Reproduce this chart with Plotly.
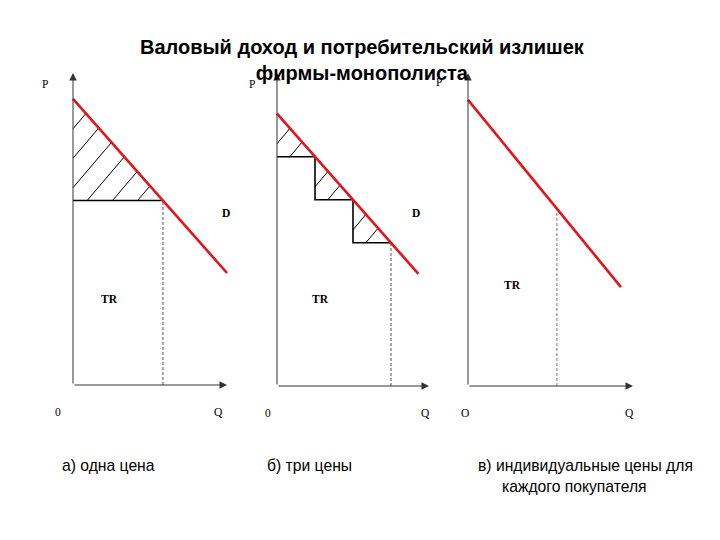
import plotly.graph_objects as go

# figure sized to fit the 720x540 window inside the page's default 8px body margin
OFF = 8
W, H = 720 - OFF, 540 - OFF

# ---------------- data ----------------
title_text = "Валовый доход и потребительский излишек<br>фирмы-монополиста"
caption_a = "а) одна цена"
caption_b = "б) три цены"
caption_c1 = "в) индивидуальные цены для"
caption_c2 = "каждого покупателя"

AXIS_MAX = 10.0
X_MIN, X_MAX = -2.2, 10.6   # visible data range (room for labels)
Y_MIN, Y_MAX = -1.3, 10.3

# demand lines: P = p0 - slope * Q, drawn from Q=0 to q_end
demand_p0 = [9.17, 8.70, 9.14]
demand_slope = [0.558, 0.55, 0.645]
demand_qend = [10.0, 9.3, 9.27]

price_a_q = 5.84              # quantity sold at single price (panel a)
steps_b_q = [2.5, 5.0, 7.5]   # quantities for three prices (panel b)
indiv_c_q = 5.39              # quantity with individual prices (panel c)

hatch_a_q = [0.84, 1.67, 2.5, 3.33, 4.17, 5.0]
hatch_b_q = [0.85, 1.65, 3.35, 4.15, 5.85, 6.65]
hatch_slope = 0.58

# ---------------- layout geometry (screen pixels) ----------------
panel_px = [  # x at Q=0, x at Q=10, y at P=0, y at P=10
    (73, 227, 385, 73),
    (277, 429, 386, 73),
    (468, 633, 386, 73),
]

RED = "#e3141b"
AX = "#333333"
SERIF = "Liberation Serif, Times New Roman, serif"


def px2paper(x, y):
    return (x - OFF) / W, 1 - (y - OFF) / H


def demand(i, q):
    return demand_p0[i] - demand_slope[i] * q


fig = go.Figure()
layout_axes = {}
annotations = []

for i, (x0, x10, y0, y10) in enumerate(panel_px):
    sfx = "" if i == 0 else str(i + 1)
    ux = (x10 - x0) / AXIS_MAX
    uy = (y0 - y10) / AXIS_MAX
    dl, _ = px2paper(x0 + X_MIN * ux, 0)
    dr, _ = px2paper(x0 + X_MAX * ux, 0)
    _, db = px2paper(0, y0 - Y_MIN * uy)
    _, dt = px2paper(0, y0 - Y_MAX * uy)
    layout_axes["xaxis" + sfx] = dict(domain=[dl, dr], range=[X_MIN, X_MAX],
                                      visible=False, fixedrange=True, anchor="y" + sfx)
    layout_axes["yaxis" + sfx] = dict(domain=[db, dt], range=[Y_MIN, Y_MAX],
                                      visible=False, fixedrange=True, anchor="x" + sfx)
    xr_, yr_ = "x" + sfx, "y" + sfx
    # axes with arrows
    for tip in [(0, AXIS_MAX), (AXIS_MAX, 0)]:
        annotations.append(dict(x=tip[0], y=tip[1], ax=0, ay=0, xref=xr_, yref=yr_,
                                axref=xr_, ayref=yr_, showarrow=True, arrowhead=2,
                                arrowsize=1.5, arrowwidth=1, arrowcolor=AX, text=""))

lines = []  # (panel, xs, ys, color, width, dash)

# panel a
pa = demand(0, price_a_q)
for qu in hatch_a_q:
    pu = demand(0, qu)
    ql = qu - (pu - pa) / hatch_slope
    if ql < 0:
        lines.append((0, [0, qu], [pu - hatch_slope * qu, pu], "black", 1, "solid"))
    else:
        lines.append((0, [ql, qu], [pa, pu], "black", 1, "solid"))
lines.append((0, [0, price_a_q], [pa, pa], "black", 1.6, "solid"))
lines.append((0, [price_a_q, price_a_q], [0, pa], "#555555", 1, "3px,2px"))

# panel b
pb = [demand(1, q) for q in steps_b_q]
sx, sy = [0], [pb[0]]
for k, q in enumerate(steps_b_q):
    sx += [q]
    sy += [pb[k]]
    if k + 1 < len(steps_b_q):
        sx += [q]
        sy += [pb[k + 1]]
lines.append((1, sx, sy, "black", 1.6, "solid"))
lefts = [0] + steps_b_q[:-1]
for qu in hatch_b_q:
    k = next(j for j, q in enumerate(steps_b_q) if qu < q)
    pu = demand(1, qu)
    ql = qu - (pu - pb[k]) / hatch_slope
    if ql < lefts[k]:
        lines.append((1, [lefts[k], qu], [pu - hatch_slope * (qu - lefts[k]), pu], "black", 1, "solid"))
    else:
        lines.append((1, [ql, qu], [pb[k], pu], "black", 1, "solid"))
lines.append((1, [steps_b_q[-1], steps_b_q[-1]], [0, pb[-1]], "#555555", 1, "3px,2px"))

# panel c
pc = demand(2, indiv_c_q)
lines.append((2, [indiv_c_q, indiv_c_q], [0, pc - 0.1], "#777777", 1, "3px,2px"))

# demand lines
for i in range(3):
    lines.append((i, [0, demand_qend[i]], [demand(i, 0), demand(i, demand_qend[i])], RED, 2.6, "solid"))

for (i, xs, ys, col, w, dash) in lines:
    sfx = "" if i == 0 else str(i + 1)
    fig.add_trace(go.Scatter(x=xs, y=ys, mode="lines", xaxis="x" + sfx, yaxis="y" + sfx,
                             line=dict(color=col, width=w, dash=dash),
                             hoverinfo="skip", cliponaxis=False, showlegend=False))

# labels in data coordinates
label_pos = [
    # (panel, text, q, p, bold)
    (0, "P", -1.82, 9.65, False), (0, "0", -0.95, -0.87, False), (0, "Q", 9.42, -0.87, False),
    (0, "D", 9.94, 5.51, True), (0, "TR", 2.4, 2.76, True),
    (1, "P", -1.64, 9.65, False), (1, "0", -0.59, -0.85, False), (1, "Q", 9.74, -0.85, False),
    (1, "D", 9.14, 5.53, True), (1, "TR", 2.89, 2.78, True),
    (2, "P", -1.75, 9.7, False), (2, "O", -0.18, -0.85, False), (2, "Q", 9.76, -0.85, False),
    (2, "TR", 2.67, 3.23, True),
]
for (i, t, q, p, b) in label_pos:
    sfx = "" if i == 0 else str(i + 1)
    annotations.append(dict(x=q, y=p, xref="x" + sfx, yref="y" + sfx, showarrow=False,
                            text=f"<b>{t}</b>" if b else t, xanchor="center", yanchor="middle",
                            font=dict(family=SERIF, size=11.5, color="black")))

# title
tx, ty = px2paper(362, 60)
annotations.append(dict(x=tx, y=ty, xref="paper", yref="paper", showarrow=False,
                        xanchor="center", yanchor="middle",
                        text=f"<b>{title_text}</b>", align="center",
                        font=dict(family="Liberation Sans, Arial, sans-serif", size=20, color="black")))

CAP_FONT = dict(family="Liberation Sans Narrow, Arial Narrow, Liberation Sans, sans-serif",
                size=15.7, color="black")
for text, x, y in [(caption_a, 60, 465), (caption_b, 265, 465), (caption_c1, 476, 465), (caption_c2, 500, 486)]:
    px_, py_ = px2paper(x, y)
    annotations.append(dict(x=px_, y=py_, xref="paper", yref="paper", xanchor="left",
                            yanchor="middle", showarrow=False, text=text, font=CAP_FONT))

fig.update_layout(width=W, height=H, margin=dict(l=0, r=0, t=0, b=0),
                  paper_bgcolor="white", plot_bgcolor="white", showlegend=False,
                  annotations=annotations, **layout_axes)

fig.write_html("out.html")
